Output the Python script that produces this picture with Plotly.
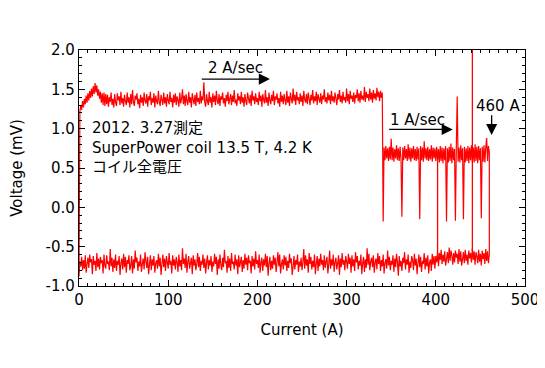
import plotly.graph_objects as go

# ---- data ----
# ramp-up at 2 A/sec (0..340 A, one sample per ampere)
up1_current = list(range(0, 341))
up1_voltage = [
    -0.88, 1.22,
    1.30, 1.24, 1.35, 1.27, 1.38, 1.31, 1.42, 1.33, 1.45, 1.36, 1.48, 1.39, 1.51, 1.41, 1.54,
    1.44, 1.58, 1.46, 1.55, 1.42, 1.50, 1.38, 1.47, 1.33, 1.45, 1.30, 1.46, 1.29, 1.44,
    1.31, 1.43, 1.28, 1.40, 1.34, 1.46, 1.30, 1.38, 1.27, 1.44,
    1.33, 1.29, 1.45, 1.36, 1.41, 1.30, 1.47, 1.32, 1.39, 1.28,
    1.43, 1.35, 1.30, 1.46, 1.33, 1.40, 1.27, 1.44, 1.31, 1.49,
    1.34, 1.29, 1.42, 1.37, 1.45, 1.31, 1.38, 1.26, 1.43, 1.33,
    1.40, 1.29, 1.46, 1.35, 1.32, 1.44, 1.28, 1.41, 1.36, 1.47,
    1.30, 1.39, 1.33, 1.45, 1.27, 1.42, 1.35, 1.31, 1.48, 1.34,
    1.29, 1.43, 1.37, 1.30, 1.46, 1.32, 1.40, 1.28, 1.44, 1.36,
    1.31, 1.47, 1.34, 1.39, 1.27, 1.43, 1.33, 1.45, 1.30, 1.41,
    1.36, 1.28, 1.46, 1.32, 1.38, 1.50, 1.31, 1.42, 1.29, 1.44,
    1.35, 1.30, 1.47, 1.33, 1.40, 1.27, 1.45, 1.37, 1.31, 1.43,
    1.29, 1.46, 1.34, 1.39, 1.31, 1.48, 1.32, 1.41, 1.36, 1.59,
    1.33, 1.28, 1.44, 1.35, 1.30, 1.47, 1.33, 1.40, 1.27, 1.45,
    1.34, 1.42, 1.30, 1.48, 1.36, 1.31, 1.44, 1.29, 1.41, 1.37,
    1.46, 1.32, 1.39, 1.28, 1.43, 1.35, 1.47, 1.31, 1.38, 1.44,
    1.30, 1.42, 1.34, 1.49, 1.32, 1.37, 1.29, 1.45, 1.36, 1.41,
    1.31, 1.47, 1.33, 1.40, 1.28, 1.44, 1.35, 1.30, 1.46, 1.38,
    1.32, 1.43, 1.29, 1.48, 1.36, 1.41, 1.31, 1.45, 1.34, 1.39,
    1.30, 1.47, 1.35, 1.42, 1.28, 1.44, 1.37, 1.32, 1.49, 1.33,
    1.40, 1.29, 1.46, 1.36, 1.31, 1.43, 1.35, 1.48, 1.30, 1.41,
    1.37, 1.45, 1.32, 1.39, 1.28, 1.47, 1.34, 1.42, 1.31, 1.44,
    1.36, 1.30, 1.48, 1.33, 1.41, 1.29, 1.46, 1.38, 1.32, 1.51,
    1.35, 1.43, 1.30, 1.47, 1.36, 1.40, 1.31, 1.45, 1.34, 1.42,
    1.29, 1.48, 1.37, 1.33, 1.44, 1.31, 1.46, 1.38, 1.30, 1.43,
    1.36, 1.49, 1.32, 1.41, 1.35, 1.47, 1.30, 1.44, 1.38, 1.33,
    1.45, 1.31, 1.42, 1.37, 1.50, 1.34, 1.40, 1.32, 1.46, 1.36,
    1.43, 1.31, 1.48, 1.35, 1.41, 1.33, 1.46, 1.38, 1.30, 1.44,
    1.37, 1.49, 1.34, 1.42, 1.32, 1.47, 1.36, 1.40, 1.33, 1.51,
    1.35, 1.44, 1.31, 1.48, 1.38, 1.42, 1.34, 1.46, 1.32, 1.43,
    1.39, 1.50, 1.35, 1.45, 1.33, 1.48, 1.37, 1.42, 1.36, 1.53,
    1.34, 1.47, 1.39, 1.44, 1.35, 1.51, 1.37, 1.46, 1.33, 1.49,
    1.38, 1.45, 1.36, 1.52, 1.40, 1.47, 1.35, 1.48, 1.39, 1.46,
]

# ramp-up at 1 A/sec (341..460 A)
up2_current = list(range(341, 461))
up2_voltage = [
    -0.18,
    0.76, 0.60, 0.78, 0.62, 0.75, 0.59, 0.77, 0.61, 0.87,
    0.60, 0.76, 0.58, 0.74, 0.62, 0.79, 0.60, 0.75, 0.59, 0.77,
    0.61, -0.12, 0.76, 0.60, 0.78, 0.62, 0.74, 0.59, 0.80, 0.61,
    0.76, 0.58, 0.75, 0.62, 0.78, 0.60, 0.74, 0.59, 0.77, 0.61,
    0.75, -0.15, 0.78, 0.60, 0.76, 0.58, 0.84, 0.62, 0.75, 0.60,
    0.77, 0.59, 0.74, 0.61, 0.79, 0.58, 0.76, 0.62, 0.75, 0.59,
    0.77, 0.60, 0.74, 0.57, 0.78, 0.59, 0.76, 0.56, 0.75, 0.60,
    0.78, -0.18, 0.75, 0.57, 0.77, 0.59, 0.81, 0.56, 0.76, 0.60,
    0.74, -0.17, 0.77, 1.41, 0.58, 0.76, 0.57, 0.79, 0.60, 0.75,
    -0.15, 0.77, 0.57, 0.75, 0.59, 0.78, 0.56, 0.76, 0.60, 0.79,
    0.58, 0.76, 0.57, 0.80, 0.59, 0.77, 0.56, 0.78, 0.60, 0.75,
    -0.14, 0.77, 0.58, 0.79, 0.57, 0.76, 0.88, 0.59, 0.78, 0.70,
]

# ramp-down (460..0 A)
down_current = list(range(460, -1, -1))
down_voltage = [
    -0.60, -0.71, -0.56, -0.68, -0.53, -0.72, -0.58, -0.66, -0.55, -0.74,
    -0.59, -0.69, -0.54, -0.71, -0.62, -0.57, -0.73, -0.56, -0.67, -0.52,
    -0.70, -0.58, -0.65, -0.55, -0.73, -0.60, -0.68, -0.54, -0.71, -0.57,
    -0.66, -0.74, -0.56, -0.69, -0.53, -0.72, -0.59, -0.64, -0.55, -0.70,
    -0.58, -0.73, -0.61, -0.55, -0.68, -0.51, -0.71, -0.57, -0.66, -0.74,
    -0.56, -0.69, -0.60, -0.72, -0.54, -0.67, -0.58, -0.75, -0.57, -0.70,
    -0.62,
    -0.78, -0.62, -0.73, -0.59, -0.81, -0.66, -0.70, -0.84, -0.61, -0.75,
    -0.64, -0.79, -0.58, -0.72, -0.68, -0.82, -0.63, -0.76, -0.60, -0.71,
    -0.85, -0.65, -0.74, -0.59, -0.80, -0.67, -0.62, -0.77, -0.69, -0.83,
    -0.60, -0.73, -0.66, -0.79, -0.57, -0.71, -0.64, -0.81, -0.68, -0.75,
    -0.62, -0.87, -0.70, -0.59, -0.76, -0.65, -0.82, -0.61, -0.73, -0.68,
    -0.80, -0.63, -0.74, -0.55, -0.78, -0.66, -0.71, -0.84, -0.60, -0.75,
    -0.67, -0.81, -0.62, -0.72, -0.58, -0.79, -0.65, -0.70, -0.83, -0.61,
    -0.76, -0.64, -0.69, -0.80, -0.59, -0.73, -0.52, -0.77, -0.66, -0.82,
    -0.63, -0.71, -0.85, -0.60, -0.74, -0.68, -0.79, -0.62, -0.70, -0.57,
    -0.81, -0.66, -0.75, -0.61, -0.83, -0.64, -0.72, -0.59, -0.78, -0.69,
    -0.62, -0.80, -0.67, -0.73, -0.58, -0.76, -0.65, -0.86, -0.61, -0.71,
    -0.79, -0.64, -0.70, -0.82, -0.60, -0.74, -0.66, -0.78, -0.55, -0.72,
    -0.84, -0.63, -0.69, -0.77, -0.61, -0.80, -0.67, -0.73, -0.59, -0.75,
    -0.65, -0.81, -0.62, -0.71, -0.85, -0.60, -0.76, -0.68, -0.79, -0.63,
    -0.72, -0.58, -0.83, -0.66, -0.74, -0.61, -0.78, -0.53, -0.70, -0.80,
    -0.64, -0.75, -0.69, -0.82, -0.60, -0.73, -0.67, -0.79, -0.62, -0.76,
    -0.86, -0.65, -0.71, -0.59, -0.77, -0.68, -0.81, -0.63, -0.74, -0.61,
    -0.79, -0.66, -0.72, -0.84, -0.60, -0.75, -0.57, -0.70, -0.82, -0.64,
    -0.73, -0.61, -0.78, -0.68, -0.80, -0.63, -0.71, -0.87, -0.62, -0.76,
    -0.59, -0.74, -0.66, -0.81, -0.64, -0.70, -0.83, -0.60, -0.77, -0.67,
    -0.72, -0.56, -0.79, -0.65, -0.75, -0.62, -0.84, -0.68, -0.71, -0.61,
    -0.80, -0.64, -0.73, -0.59, -0.78, -0.67, -0.82, -0.63, -0.70, -0.76,
    -0.61, -0.85, -0.66, -0.74, -0.60, -0.79, -0.69, -0.72, -0.58, -0.81,
    -0.65, -0.77, -0.62, -0.83, -0.68, -0.71, -0.54, -0.76, -0.64, -0.80,
    -0.73, -0.60, -0.78, -0.66, -0.86, -0.63, -0.72, -0.59, -0.75, -0.69,
    -0.82, -0.62, -0.74, -0.67, -0.79, -0.61, -0.70, -0.84, -0.65, -0.77,
    -0.60, -0.73, -0.68, -0.81, -0.63, -0.76, -0.58, -0.72, -0.80, -0.66,
    -0.74, -0.61, -0.85, -0.64, -0.71, -0.78, -0.62, -0.69, -0.83, -0.59,
    -0.77, -0.65, -0.72, -0.52, -0.80, -0.67, -0.75, -0.60, -0.82, -0.70,
    -0.63, -0.79, -0.66, -0.74, -0.61, -0.84, -0.68, -0.73, -0.58, -0.78,
    -0.70, -0.62, -0.81, -0.65, -0.76, -0.60, -0.72, -0.86, -0.64, -0.75,
    -0.59, -0.78, -0.67, -0.71, -0.83, -0.62, -0.74, -0.66, -0.80, -0.61,
    -0.73, -0.85, -0.63, -0.77, -0.68, -0.57, -0.79, -0.65, -0.72, -0.82,
    -0.60, -0.75, -0.69, -0.81, -0.64, -0.70, -0.55, -0.78, -0.66, -0.84,
    -0.62, -0.74, -0.80, -0.61, -0.72, -0.67, -0.83, -0.63, -0.76, -0.59,
    -0.79, -0.65, -0.71, -0.86, -0.62, -0.73, -0.68, -0.81, -0.60, -0.77,
    -0.66, -0.82, -0.64, -0.75, -0.53, -0.80, -0.69, -0.72, -0.61, -0.78,
    -0.74, -0.60, -0.84, -0.67, -0.71, -0.63, -0.79, -0.65, -0.76, -0.58,
    -0.81, -0.68, -0.73, -0.62, -0.85, -0.66, -0.70, -0.60, -0.77, -0.64,
    -0.72, -0.83, -0.61, -0.78, -0.67, -0.80, -0.63, -0.75, -0.69, -0.88,
]

# isolated vertical glitches
glitch_current = [402, 441]
glitch_low = [-0.62, -0.55]
glitch_high = [0.70, 2.10]

x_ticks = [0, 100, 200, 300, 400, 500]
y_ticks = [-1.0, -0.5, 0.0, 0.5, 1.0, 1.5, 2.0]
note_lines = ["2012. 3.27測定", "SuperPower coil 13.5 T, 4.2 K", "コイル全電圧"]

RED = "#ff0000"
FONT = "DejaVu Sans, Noto Sans CJK JP, sans-serif"

fig = go.Figure()
fig.add_trace(go.Scatter(
    x=up1_current + up2_current + down_current,
    y=up1_voltage + up2_voltage + down_voltage,
    mode="lines", line=dict(color=RED, width=1.2, simplify=False), showlegend=False,
))
gx, gy = [], []
for c, lo, hi in zip(glitch_current, glitch_low, glitch_high):
    gx += [c, c, None]
    gy += [lo, hi, None]
fig.add_trace(go.Scatter(x=gx, y=gy, mode="lines",
                         line=dict(color=RED, width=1.3, simplify=False), showlegend=False))

ann = []
ann.append(dict(x=12, y=0.765, xref="x", yref="y", text="<br>".join(note_lines),
                showarrow=False, xanchor="left", yanchor="middle", align="left",
                font=dict(family=FONT, size=15, color="black")))
# rate labels
ann.append(dict(x=175, y=1.77, text="2 A/sec", showarrow=False, xref="x", yref="y",
                font=dict(family=FONT, size=15, color="black")))
ann.append(dict(x=380, y=1.11, text="1 A/sec", showarrow=False, xref="x", yref="y",
                font=dict(family=FONT, size=15, color="black")))
ann.append(dict(x=470, y=1.29, text="460 A", showarrow=False, xref="x", yref="y",
                font=dict(family=FONT, size=15, color="black")))
# arrows
for (hx, hy, tx, ty) in [(214, 1.63, 136, 1.63), (419, 0.99, 346, 0.99), (462.6, 0.92, 462.6, 1.19)]:
    ann.append(dict(x=hx, y=hy, ax=tx, ay=ty, xref="x", yref="y", axref="x", ayref="y",
                    text="", showarrow=True, arrowhead=2, arrowsize=1.7, arrowwidth=1.3,
                    arrowcolor="black"))

axis_common = dict(
    showline=True, linecolor="black", linewidth=1.2, mirror="allticks",
    ticks="inside", ticklen=6, tickwidth=1, tickcolor="black",
    showgrid=False, zeroline=False, automargin=False,
    tickfont=dict(family=FONT, size=15, color="black"),
)
# page body adds an 8 px offset, so the figure is sized for that
fig.update_layout(
    width=537, height=360,
    margin=dict(l=71, r=20, t=42, b=82),
    paper_bgcolor="white", plot_bgcolor="white",
    xaxis=dict(range=[0, 500], tickvals=x_ticks, ticktext=[str(v) for v in x_ticks],
               minor=dict(dtick=10, tick0=0, ticks="inside", ticklen=3, tickcolor="black"),
               title=dict(text="Current (A)", font=dict(family=FONT, size=15, color="black"), standoff=16),
               **axis_common),
    yaxis=dict(range=[-1.0, 2.0], tickvals=y_ticks, ticktext=[f"{v:.1f}" for v in y_ticks],
               minor=dict(dtick=0.1, tick0=0, ticks="inside", ticklen=3, tickcolor="black"),
               title=dict(text="Voltage (mV)", font=dict(family=FONT, size=15, color="black"), standoff=22),
               **axis_common),
    annotations=ann,
)
fig.write_html("out.html")
